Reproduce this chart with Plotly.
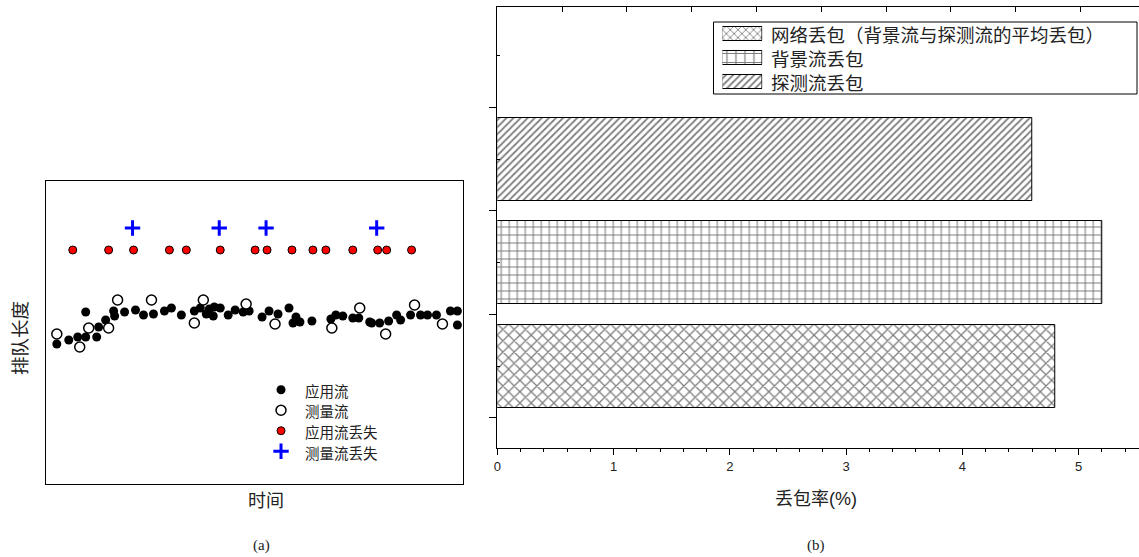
import plotly.graph_objects as go

# ---------- (a) queue length over time ----------
# application-flow packets (time, queue length)
app_t = [11, 23, 32, 40, 40, 51, 53, 60, 68, 69, 79, 90, 98, 108, 119, 126, 136, 149, 155,
         161, 164, 168, 169, 175, 183, 190, 198, 204, 217, 224, 233, 244, 248, 251, 255, 267,
         286, 291, 298, 308, 314, 325, 327, 335, 344, 352, 356, 366, 376, 383, 392, 406, 413, 413]
app_q = [140, 144, 147, 172, 147, 147, 157, 164, 173, 168, 172, 174, 169, 170, 173, 176, 169, 173, 176,
         170, 175, 168, 177, 176, 169, 174, 172, 173, 167, 173, 170, 176, 161, 167, 162, 163,
         165, 169, 168, 166, 166, 162, 161, 161, 163, 169, 164, 169, 169, 169, 169, 173, 173, 159]

# measurement-flow packets
probe_t = [11, 34, 43, 63, 72, 106, 149, 158, 201, 230, 287, 315, 341, 370, 398]
probe_q = [150, 137, 156, 156, 184, 184, 161, 184, 180, 160, 156, 176, 150, 179, 160]

# dropped application packets
app_loss_t = [27, 63, 88, 124, 141, 175, 210, 222, 247, 268, 281, 308, 333, 342, 367]
app_loss_q = [234] * len(app_loss_t)

# dropped measurement packets
probe_loss_t = [87, 174, 221, 332]
probe_loss_q = [256] * len(probe_loss_t)

series_a = ["应用流", "测量流", "应用流丢失", "测量流丢失"]

# ---------- (b) loss rate ----------
loss_labels = ["探测流丢包", "背景流丢包", "网络丢包（背景流与探测流的平均丢包）"]
loss_rate = [4.6, 5.2, 4.8]
loss_pos = [3, 2, 1]

legend_order = ["网络丢包（背景流与探测流的平均丢包）", "背景流丢包", "探测流丢包"]

x_ticks_b = [0, 1, 2, 3, 4, 5]
top_ticks_b = [0.557, 1.115, 1.672, 2.23, 2.787, 3.345, 3.902, 4.46, 5.017]

W, H = 1139, 557
CJK = "Noto Sans CJK SC"
LAT = "Liberation Sans"
TXT = "#222"

# hatch style per series: (shape, size in bar, size in legend key, solidity)
hatch = {
    "探测流丢包": ("/", 5, 5, 0.36),
    "背景流丢包": ("+", 8, 9, 0.25),
    "网络丢包（背景流与探测流的平均丢包）": ("x", 8, 5.5, 0.3),
}

marker_a = [
    dict(symbol="circle", size=9, color="black"),
    dict(symbol="circle", size=10, color="white", line=dict(color="black", width=1.5)),
    dict(symbol="circle", size=8, color="red", line=dict(color="black", width=1)),
    dict(symbol="cross-thin", size=11, line=dict(color="blue", width=3)),
]


def px_x(p):
    return p / W


def px_y(p):
    return 1 - p / H


fig = go.Figure()

data_a = [(app_t, app_q), (probe_t, probe_q), (app_loss_t, app_loss_q), (probe_loss_t, probe_loss_q)]
for name, (tx, qy), mk in zip(series_a, data_a, marker_a):
    fig.add_trace(go.Scatter(x=tx, y=qy, mode="markers", name=name, marker=mk,
                             xaxis="x", yaxis="y", showlegend=False))

# legend keys of panel (a), one row per series
for i, (name, mk) in enumerate(zip(series_a, marker_a)):
    fig.add_trace(go.Scatter(x=[0], y=[i], mode="markers", name=name, marker=mk,
                             xaxis="x5", yaxis="y5", showlegend=False, hoverinfo="skip"))

# horizontal patterned bars
for lab, val, pos in zip(loss_labels, loss_rate, loss_pos):
    shp, sz, _, sol = hatch[lab]
    fig.add_trace(go.Bar(x=[val], y=[pos], orientation="h", width=0.8, name=lab,
                         marker=dict(color="white", line=dict(color="black", width=1),
                                     pattern=dict(shape=shp, fgcolor="black", bgcolor="white",
                                                  size=sz, solidity=sol)),
                         xaxis="x2", yaxis="y2", showlegend=False, hoverinfo="x"))

# top frame axis of panel (b)
fig.add_trace(go.Scatter(x=[None], y=[None], xaxis="x4", yaxis="y2",
                         showlegend=False, hoverinfo="skip"))

# legend keys of panel (b)
for i, lab in enumerate(legend_order):
    shp, _, sz, sol = hatch[lab]
    fig.add_trace(go.Bar(x=[1], y=[i], orientation="h", width=0.55, name=lab,
                         marker=dict(color="white", line=dict(color="black", width=1),
                                     pattern=dict(shape=shp, fgcolor="black", bgcolor="white",
                                                  size=sz, solidity=sol)),
                         xaxis="x3", yaxis="y3", showlegend=False, hoverinfo="skip"))


def label(x, y, text, size, family=CJK, xanchor="center", angle=0):
    return dict(x=px_x(x), y=px_y(y), xref="paper", yref="paper", text=text, showarrow=False,
                xanchor=xanchor, yanchor="middle", textangle=angle,
                font=dict(family=family, size=size, color=TXT))


annotations = []
for i, lab in enumerate(legend_order):
    annotations.append(label(768, 34 + 24 * i, lab, 18.5, xanchor="left"))
for i, name in enumerate(series_a):
    annotations.append(label(300, 390 + 20.7 * i, name, 14.5, xanchor="left"))

annotations += [
    label(263, 499, "时间", 18),
    label(15, 338, "排队长度", 18.5, angle=-90),
    label(815, 497, "丢包率<span style='font-family:Liberation Sans'>(%)</span>", 18),
    label(258, 545, "(a)", 15, family="Liberation Serif"),
    label(815, 545, "(b)", 15, family="Liberation Serif"),
]

shapes = [
    dict(type="rect", xref="paper", yref="paper", x0=px_x(712), x1=px_x(1137),
         y0=px_y(94), y1=px_y(22), line=dict(color="black", width=1), fillcolor="rgba(0,0,0,0)"),
]

frame = dict(showline=True, linecolor="black", linewidth=1.3, mirror=True,
             showgrid=False, zeroline=False, ticks="", showticklabels=False)

fig.update_layout(
    width=W, height=H,
    margin=dict(l=0, r=0, t=0, b=0),
    paper_bgcolor="white", plot_bgcolor="white",
    font=dict(family=LAT, color=TXT),
    showlegend=False,
    xaxis=dict(domain=[px_x(42), px_x(461)], range=[0, 419], anchor="y", **frame),
    yaxis=dict(domain=[px_y(484), px_y(181)], range=[0, 303], anchor="x", **frame),
    xaxis5=dict(domain=[px_x(268), px_x(288)], range=[-1, 1], anchor="y5", visible=False,
                fixedrange=True),
    yaxis5=dict(domain=[px_y(461.5), px_y(379.5)], range=[3.5, -0.5], anchor="x5", visible=False,
                fixedrange=True),
    xaxis2=dict(domain=[px_x(495), 1.0], range=[0, 5.52], anchor="y2",
                showline=True, linecolor="black", linewidth=1.3, showgrid=False, zeroline=False,
                tickmode="array", tickvals=x_ticks_b, ticks="outside", ticklen=6, tickwidth=1.3,
                tickcolor="black", tickfont=dict(family=LAT, size=13, color=TXT),
                minor=dict(dtick=0.2, tick0=0, ticks="outside", ticklen=3, tickwidth=1,
                           tickcolor="black", showgrid=False)),
    xaxis4=dict(overlaying="x2", side="top", anchor="y2", range=[0, 5.52],
                showline=True, linecolor="black", linewidth=1.3, showgrid=False, zeroline=False,
                tickmode="array", tickvals=top_ticks_b, ticks="inside", ticklen=5, tickwidth=1.3,
                tickcolor="black", showticklabels=False),
    yaxis2=dict(domain=[px_y(448), px_y(7)], range=[0.21, 4.47], anchor="x2",
                showline=True, linecolor="black", linewidth=1.3, showgrid=False, zeroline=False,
                tickmode="array", tickvals=[0.5, 1.5, 2.5, 3.5], ticks="outside", ticklen=7,
                tickwidth=1.3, tickcolor="black", showticklabels=False,
                minor=dict(tickmode="array", tickvals=[1, 2, 3, 4], ticks="inside", ticklen=3,
                           tickwidth=1, tickcolor="black", showgrid=False)),
    xaxis3=dict(domain=[px_x(721), px_x(761)], range=[0, 1], anchor="y3", visible=False,
                fixedrange=True),
    yaxis3=dict(domain=[px_y(94), px_y(22)], range=[2.5, -0.5], anchor="x3", visible=False,
                fixedrange=True),
    annotations=annotations,
    shapes=shapes,
    bargap=0,
)

fig.write_html("out.html")
